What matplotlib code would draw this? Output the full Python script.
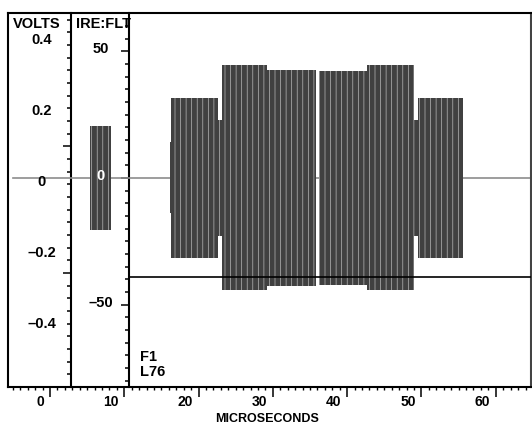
import numpy as np
import matplotlib
matplotlib.use('Agg')
import matplotlib.pyplot as plt
from matplotlib.transforms import ScaledTranslation, offset_copy

plt.rcParams['font.family'] = ['Liberation Sans', 'DejaVu Sans']
plt.rcParams['font.weight'] = 'bold'
plt.rcParams['hatch.linewidth'] = 0.5

# chroma packets, line 76: start / end in microseconds, peak amplitude in IRE
seg_start = [5.38, 16.10, 16.35, 22.65, 23.11, 29.27, 36.27, 42.62, 49.06, 49.53]
seg_end = [8.21, 16.35, 22.65, 23.11, 29.27, 35.80, 42.62, 49.06, 49.53, 55.59]
seg_amp = [20.5, 14.0, 31.5, 23.0, 44.4, 42.8, 42.3, 44.4, 23.0, 31.5]

# blanking trace and cursor line
trace_x = [-4.98, 64.74]
trace_y = [0.0, 0.0]
cursor_ire = -39.0

time_ticks = [0, 10, 20, 30, 40, 50, 60]
time_labels = ['0', '10', '20', '30', '40', '50', '60']
ire_ticks = [-50, 0, 50]
ire_labels = ['\u201350', '0', '50']
volt_values = [0.4, 0.2, 0.0, -0.2, -0.4]
volt_labels = ['0.4', '0.2', '0', '\u20130.2', '\u20130.4']
volt_major = [-37.5, 12.5]

W, H = 532, 424
XMIN, XMAX = -5.65, 64.74
YMIN, YMAX = -82.5, 65.1
volt_axis_t = 2.83
ire_axis_t = 10.7

fig = plt.figure(figsize=(W / 100, H / 100), dpi=100)
ax = fig.add_axes([8 / W, (H - 387) / H, (531 - 8) / W, (387 - 13) / H])
ax.set_xlim(XMIN, XMAX)
ax.set_ylim(YMIN, YMAX)

ax.plot(trace_x, trace_y, color='#8c8c8c', lw=1.2, zorder=1)
amp = np.array(seg_amp)
ax.bar(seg_start, 2 * amp, width=np.array(seg_end) - np.array(seg_start),
       bottom=-amp, align='edge', color='#404040', edgecolor='#b8b8b8',
       linewidth=0, hatch='|||', zorder=2)
ax.hlines(cursor_ire, ire_axis_t, XMAX, color='black', lw=1.2, zorder=3)

for s in ax.spines.values():
    s.set_linewidth(1.5)
ax.spines['right'].set_color('#444444')

ax.set_yticks([])
ax.set_xticks(time_ticks, time_labels)
ax.set_xticks(np.arange(-5, 65, 1), minor=True)
ax.tick_params(axis='x', which='major', direction='out', length=7.2, width=1.1,
               pad=-1.5, labelsize=10)
ax.tick_params(axis='x', which='minor', direction='out', length=2.5, width=1.0)
for lab in ax.get_xticklabels():
    lab.set_horizontalalignment('right')
    lab.set_transform(lab.get_transform() + ScaledTranslation(-4 / 72, 0, fig.dpi_scale_trans))

# the two inner scales (volts and IRE)
def frac(t):
    return (t - XMIN) / (XMAX - XMIN)

ax_v = ax.secondary_yaxis(frac(volt_axis_t))
ax_v.set_yticks(volt_major, [])
ax_v.set_yticks(np.arange(-82.5, 63, 5), minor=True)
ax_i = ax.secondary_yaxis(frac(ire_axis_t))
ax_i.set_yticks(ire_ticks, [])
ax_i.set_yticks(np.arange(-80, 65, 5), minor=True)
for a in (ax_v, ax_i):
    for s in a.spines.values():
        s.set_linewidth(1.5)
    a.tick_params(which='major', direction='out', length=6, width=1.1)
    a.tick_params(which='minor', direction='out', length=3, width=1.1)

tv = offset_copy(ax.transData, fig=fig, y=-4, units='dots')
for v, lab in zip(volt_values, volt_labels):
    ax.text(-1.08, v * 140, lab, ha='center', va='center', fontsize=10.5, transform=tv)
ti = offset_copy(ax.transData, fig=fig, y=2, units='dots')
for v, lab in zip(ire_ticks, ire_labels):
    ax.text(6.86, v, lab, ha='center', va='center', fontsize=10.5, transform=ti,
            color='white' if v == 0 else 'black', zorder=5)

def px(x, y):
    return x / W, 1 - y / H

fig.text(*px(13, 28.3), 'VOLTS', fontsize=10.5, va='baseline')
fig.text(*px(76, 28.3), 'IRE:FLT', fontsize=10.5, va='baseline')
fig.text(*px(140, 361), 'F1', fontsize=10.5, va='baseline')
fig.text(*px(140, 376.5), 'L76', fontsize=10.5, va='baseline')
fig.text(*px(267.5, 421.8), 'MICROSECONDS', fontsize=9, ha='center', va='baseline')

fig.savefig('out.png', dpi=100)
